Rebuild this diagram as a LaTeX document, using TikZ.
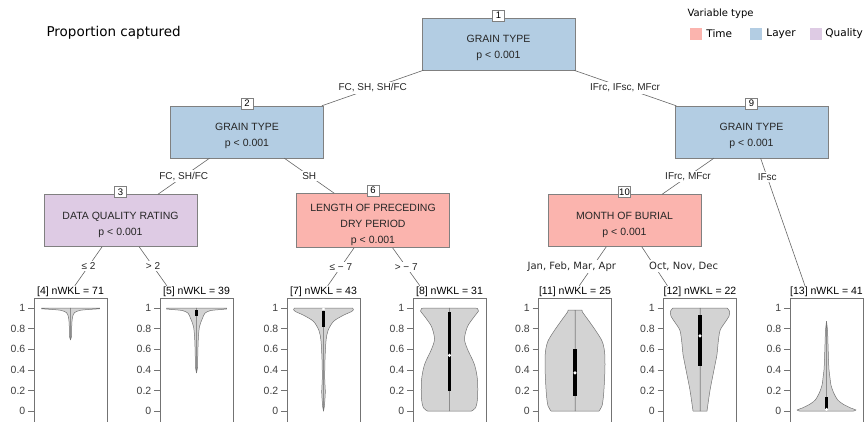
\documentclass[tikz,border=0pt]{standalone}
\usepackage{fontspec}
\setmainfont{Liberation Sans}
\newfontfamily\dejavu{DejaVu Sans}
\usetikzlibrary{positioning}
\definecolor{timecol}{HTML}{FBB4AE}
\definecolor{layercol}{HTML}{B3CDE3}
\definecolor{qualitycol}{HTML}{DECBE4}
\definecolor{violinfill}{HTML}{D3D3D3}
\tikzset{
    tree-node/.style = {draw=black!50, rectangle, minimum width=153pt, minimum height=52pt, inner sep=2pt, align=center, text=black!85, font=\fontsize{10.5}{16}\selectfont},
    node-tag/.style = {draw=black!50, fill=white, inner sep=0pt, minimum width=12pt, minimum height=11pt, font=\fontsize{9.5}{10}\selectfont},
    branch/.style = {draw=black!60, line width=0.6pt},
    edge-label/.style = {fill=white, inner sep=1.5pt, text=black!85, font=\fontsize{10}{12}\selectfont},
    leaf-box/.style = {draw=black!55, minimum width=73pt, minimum height=126pt, inner sep=0pt, anchor=north},
    leaf-title/.style = {fill=white, inner sep=1pt, anchor=south, font=\fontsize{10.5}{12}\selectfont},
    tick-label/.style = {anchor=east, inner sep=0pt, text=black!75, font=\fontsize{10.5}{11}\selectfont},
    violin/.style = {draw=black!55, fill=violinfill, line width=0.5pt, line join=round},
    legend-key/.style = {minimum size=12pt, inner sep=0pt},
    legend-text/.style = {inner sep=0pt, font=\dejavu\fontsize{10.5}{12}\selectfont},
}
\newcommand{\toppad}{\rule{0pt}{16pt}}
\newcommand{\innerbox}[3]{%
    \fill[black] (-1.6,#1) rectangle (1.6,#2);
    \fill[white] (0,#3) circle (1.7pt);
}

\begin{document}
\begin{tikzpicture}[x=1pt, y=-1pt]
\useasboundingbox (0,0) rectangle (865,422);

% title and legend
\node[anchor=west, font=\dejavu\fontsize{13.5}{15}\selectfont] (title) at (43,33) {Proportion captured};
\node[anchor=west, font=\dejavu\fontsize{10}{12}\selectfont] (legend) at (684,14) {Variable type};
\node[legend-key, fill=timecol] (key-time) at (696,34) {};
\node[legend-text, right=4pt of key-time] (lab-time) {Time};
\node[legend-key, fill=layercol] (key-layer) at (756,34) {};
\node[legend-text, right=4pt of key-layer] (lab-layer) {Layer};
\node[legend-key, fill=qualitycol] (key-quality) at (816,34) {};
\node[legend-text, right=3pt of key-quality] (lab-quality) {Quality};

% inner nodes
\node[tree-node, fill=layercol] (n1) at (498.5,44) {\toppad GRAIN TYPE\\p < 0.001};
\node[tree-node, fill=layercol] (n2) at (247,132) {\toppad GRAIN TYPE\\p < 0.001};
\node[tree-node, fill=layercol] (n9) at (751.5,132) {\toppad GRAIN TYPE\\p < 0.001};
\node[tree-node, fill=qualitycol] (n3) at (120.5,220.5) {\toppad DATA QUALITY RATING\\p < 0.001};
\node[tree-node, fill=timecol] (n6) at (373,220.5) {\toppad LENGTH OF PRECEDING\\DRY PERIOD\\p < 0.001};
\node[tree-node, fill=timecol] (n10) at (624.5,220.5) {\toppad MONTH OF BURIAL\\p < 0.001};
\foreach \id in {1,2,3,6,9,10}
    \node[node-tag, yshift=2.5pt] (tag\id) at (n\id.north) {\id};

% leaf panels with axes
\foreach \cx/\id/\n in {70.5/4/71, 196.5/5/39, 323.5/7/43, 449.5/8/31, 575/11/25, 700/12/22, 826.5/13/41} {
    \node[leaf-box] (p\id) at (\cx,298) {};
    \node[leaf-title] (t\id) at (p\id.north) {[\id] nWKL = \n};
    \begin{scope}[shift={(\cx,411)}, x=1pt, y=103pt]
        \foreach \v in {0,0.2,0.4,0.6,0.8,1} {
            \draw[black!55] (-42.5,\v) -- (-36.5,\v);
            \node[tick-label] at (-45,\v) {\v};
        }
    \end{scope}
}

% branches
\draw[branch] (n1) -- node[edge-label] (l2) {FC, SH, SH/FC} (n2);
\draw[branch] (n1) -- node[edge-label] (l9) {IFrc, IFsc, MFcr} (n9);
\draw[branch] (n2) -- node[edge-label] (l3) {FC, SH/FC} (n3);
\draw[branch] (n2) -- node[edge-label] (l6) {SH} (n6);
\draw[branch] (n9) -- node[edge-label] (l10) {IFrc, MFcr} (n10);
\draw[branch] (n9) -- node[edge-label, pos=0.15] (l13) {IFsc} ([xshift=16pt]t13.north west);
\draw[branch] (n3) -- node[edge-label] (l4) {≤ 2} (t4);
\draw[branch] (n3) -- node[edge-label] (l5) {> 2} ([xshift=5pt]t5.north west);
\draw[branch] (n6) -- node[edge-label] (l7) {≤ − 7} (t7);
\draw[branch] (n6) -- node[edge-label] (l8) {> − 7} ([xshift=5pt]t8.north west);
\draw[branch] (n10) -- node[edge-label, xshift=-21pt, font=\dejavu\fontsize{10}{12}\selectfont] (l11) {Jan, Feb, Mar, Apr} (t11);
\draw[branch] (n10) -- node[edge-label, xshift=29pt, font=\dejavu\fontsize{10}{12}\selectfont] (l12) {Oct, Nov, Dec} ([xshift=5pt]t12.north west);

% violins
\begin{scope}[shift={(70.5,411)}, x=1pt, y=103pt]
    \foreach \s in {1,-1}
        \draw[violin, xscale=\s] (0,0.69) -- plot[smooth] coordinates {(1,0.72) (1.3,0.84) (2,0.91) (4,0.955) (10,0.978) (22,0.988) (29,0.992)} -- (29,1) -- (0,1) -- cycle;
\end{scope}
\begin{scope}[shift={(196.5,411)}, x=1pt, y=103pt]
    \foreach \s in {1,-1}
        \draw[violin, xscale=\s] (0,0.37) -- plot[smooth] coordinates {(1,0.42) (1.3,0.55) (1.8,0.7) (3,0.82) (6,0.9) (8.5,0.95) (14,0.975) (24,0.985) (30,0.99)} -- (30,1) -- (0,1) -- cycle;
    \fill[black] (-1.6,0.92) rectangle (1.6,0.985);
\end{scope}
\begin{scope}[shift={(323.5,411)}, x=1pt, y=103pt]
    \foreach \s in {1,-1}
        \draw[violin, xscale=\s] (0,0) -- plot[smooth] coordinates {(0.8,0.04) (1.8,0.18) (1.2,0.32) (1.5,0.5) (2.5,0.68) (4.5,0.78) (10,0.87) (20,0.93) (28,0.965) (30,0.985)} -- (29,1) -- (0,1) -- cycle;
    \innerbox{0.82}{0.975}{0.99}
\end{scope}
\begin{scope}[shift={(449.5,411)}, x=1pt, y=103pt]
    \foreach \s in {1,-1}
        \draw[violin, xscale=\s] (0,0) -- plot[smooth] coordinates {(22,0) (26,0.03) (28,0.12) (28,0.3) (25,0.45) (18,0.6) (15,0.7) (18,0.82) (25,0.92) (29,0.97) (28,0.995) (25,1)} -- (0,1) -- cycle;
    \innerbox{0.19}{0.96}{0.54}
\end{scope}
\begin{scope}[shift={(575,411)}, x=1pt, y=103pt]
    \foreach \s in {1,-1}
        \draw[violin, xscale=\s] (0,0) -- plot[smooth] coordinates {(24,0) (27,0.05) (28.5,0.15) (29.5,0.3) (30,0.45) (29.5,0.58) (27,0.68) (20,0.79) (12,0.9) (7.5,0.96) (7,0.98)} -- (0,0.98) -- cycle;
    \innerbox{0.15}{0.6}{0.37}
\end{scope}
\begin{scope}[shift={(700,411)}, x=1pt, y=103pt]
    \foreach \s in {1,-1}
        \draw[violin, xscale=\s] (0,0) -- plot[smooth] coordinates {(7,0) (10,0.2) (14,0.4) (17,0.55) (18,0.65) (20,0.78) (25,0.86) (29,0.92) (29.5,0.97) (27,1)} -- (0,1) -- cycle;
    \innerbox{0.44}{0.93}{0.73}
\end{scope}
\begin{scope}[shift={(826.5,411)}, x=1pt, y=103pt]
    \foreach \s in {1,-1}
        \draw[violin, xscale=\s] (0,0) -- plot[smooth] coordinates {(27,0) (29.5,0.01) (24,0.03) (16,0.07) (11,0.11) (7,0.18) (4.5,0.25) (3.5,0.32) (2.5,0.4) (2,0.5) (1.5,0.65) (1,0.78) (0,0.87)} -- cycle;
    \innerbox{0.01}{0.14}{0.015}
\end{scope}
\end{tikzpicture}
\end{document}
